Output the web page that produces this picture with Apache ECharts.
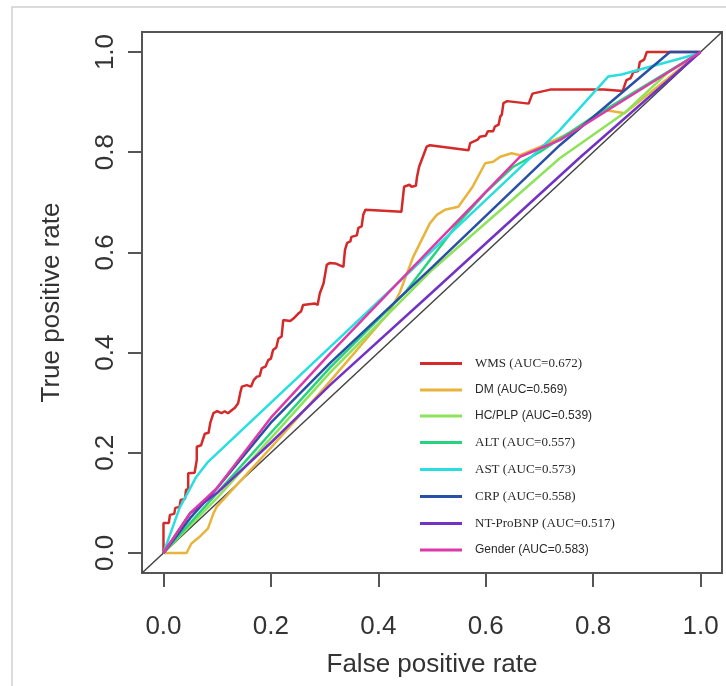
<!DOCTYPE html>
<html>
<head>
<meta charset="utf-8">
<script src="https://cdn.jsdelivr.net/npm/echarts@6/dist/echarts.min.js"></script>
<style>
html,body{margin:0;padding:0;background:#fff;}
#chart{width:726px;height:686px;}
</style>
</head>
<body>
<div id="chart"></div>
<script>
// ---- data (fpr, tpr) ----
const seriesNames = ['WMS', 'DM', 'HC/PLP', 'ALT', 'AST', 'CRP', 'NT-ProBNP', 'Gender'];
const aucValues = ['0.672', '0.569', '0.539', '0.557', '0.573', '0.558', '0.517', '0.583'];
const tickValues = [0, 0.2, 0.4, 0.6, 0.8, 1.0];

const rocWMS = [[0,0],[0,0.06],[0.01,0.06],[0.012,0.076],[0.02,0.078],[0.022,0.09],[0.03,0.092],[0.032,0.106],[0.04,0.108],[0.042,0.126],[0.046,0.128],[0.046,0.159],[0.058,0.16],[0.062,0.186],[0.062,0.212],[0.07,0.215],[0.072,0.222],[0.077,0.238],[0.084,0.24],[0.087,0.259],[0.093,0.279],[0.1,0.283],[0.108,0.279],[0.114,0.283],[0.12,0.279],[0.127,0.285],[0.133,0.29],[0.139,0.299],[0.143,0.32],[0.146,0.332],[0.155,0.335],[0.163,0.332],[0.168,0.345],[0.174,0.352],[0.179,0.353],[0.183,0.369],[0.19,0.372],[0.195,0.385],[0.2,0.388],[0.204,0.405],[0.21,0.41],[0.214,0.428],[0.22,0.432],[0.223,0.465],[0.236,0.463],[0.242,0.468],[0.251,0.478],[0.256,0.482],[0.26,0.495],[0.282,0.498],[0.287,0.495],[0.291,0.518],[0.298,0.538],[0.304,0.575],[0.31,0.579],[0.32,0.578],[0.335,0.571],[0.338,0.605],[0.342,0.619],[0.348,0.622],[0.35,0.631],[0.36,0.634],[0.363,0.649],[0.369,0.652],[0.372,0.675],[0.376,0.685],[0.443,0.681],[0.446,0.711],[0.448,0.731],[0.458,0.735],[0.462,0.731],[0.47,0.733],[0.472,0.75],[0.476,0.771],[0.49,0.811],[0.496,0.814],[0.568,0.804],[0.571,0.818],[0.574,0.821],[0.585,0.825],[0.589,0.831],[0.6,0.833],[0.604,0.842],[0.614,0.842],[0.617,0.851],[0.624,0.855],[0.627,0.871],[0.63,0.875],[0.633,0.898],[0.64,0.902],[0.68,0.897],[0.687,0.917],[0.72,0.925],[0.82,0.925],[0.855,0.922],[0.862,0.944],[0.87,0.948],[0.875,0.96],[0.884,0.962],[0.887,0.98],[0.895,0.985],[0.9,1.0],[1,1]];
const rocDM = [[0,0],[0.043,0],[0.052,0.019],[0.068,0.033],[0.083,0.049],[0.093,0.079],[0.099,0.092],[0.2,0.21],[0.3,0.33],[0.42,0.48],[0.44,0.52],[0.465,0.591],[0.496,0.658],[0.509,0.675],[0.524,0.685],[0.549,0.691],[0.575,0.73],[0.599,0.778],[0.614,0.781],[0.627,0.791],[0.648,0.798],[0.664,0.794],[0.7,0.81],[0.76,0.84],[0.819,0.885],[0.859,0.878],[1,1]];
const rocHCPLP = [[0,0],[0.1,0.11],[0.31,0.36],[0.5,0.565],[0.738,0.788],[0.86,0.88],[0.94,0.96],[1,1]];
const rocALT = [[0,0],[0.05,0.06],[0.1,0.12],[0.2,0.24],[0.31,0.37],[0.45,0.52],[0.55,0.66],[0.6,0.72],[0.65,0.77],[0.7,0.8],[0.8,0.87],[1,1]];
const rocAST = [[0,0],[0.03,0.09],[0.06,0.15],[0.083,0.182],[0.31,0.411],[0.738,0.844],[0.828,0.951],[0.853,0.955],[0.99,0.995],[1,1]];
const rocCRP = [[0,0],[0.05,0.07],[0.1,0.13],[0.2,0.26],[0.31,0.379],[0.5,0.57],[0.738,0.814],[0.943,1.0],[1,1]];
const rocNT = [[0,0],[0.05,0.08],[0.1,0.12],[0.2,0.22],[0.31,0.335],[0.5,0.52],[0.776,0.79],[1,1]];
const rocGender = [[0,0],[0.05,0.08],[0.1,0.13],[0.2,0.27],[0.31,0.398],[0.5,0.61],[0.664,0.791],[0.738,0.824],[1,1]];
const refDiagonal = [[-0.04,-0.04],[1.04,1.04]];

// ---- styles ----
const colors = ['#d42a2a', '#e8b43c', '#8ee35a', '#27d37f', '#29dede', '#2750a6', '#7232c4', '#dc3aa8'];
const legendFont = ['t', 's', 's', 't', 't', 't', 't', 's'];
const rocData = [rocWMS, rocDM, rocHCPLP, rocALT, rocAST, rocCRP, rocNT, rocGender];

const labelFont = "'Liberation Sans', Arial, sans-serif";

const chart = echarts.init(document.getElementById('chart'), null, {renderer: 'canvas'});

const series = [{
  name: 'ref',
  type: 'line',
  data: refDiagonal,
  showSymbol: false,
  silent: true,
  lineStyle: {color: '#444', width: 1.5},
  z: 1
}];
seriesNames.forEach((n, i) => {
  series.push({
    name: n,
    type: 'line',
    data: rocData[i],
    showSymbol: false,
    lineStyle: {color: colors[i], width: 2.5},
    itemStyle: {color: colors[i]},
    z: 2 + i
  });
});

const legendLabel = {};
seriesNames.forEach((n, i) => { legendLabel[n] = n + ' (AUC=' + aucValues[i] + ')'; });

chart.setOption({
  animation: false,
  backgroundColor: '#fff',
  graphic: [{
    type: 'rect',
    shape: {x: 12, y: 7, width: 730, height: 700},
    style: {fill: 'none', stroke: '#cfcfcf', lineWidth: 1.5},
    silent: true
  }],
  grid: {
    left: 142, top: 32, width: 580, height: 541,
    show: true, borderColor: '#555', borderWidth: 2, backgroundColor: 'transparent'
  },
  legend: {
    data: seriesNames,
    orient: 'vertical',
    left: 420,
    top: 357,
    padding: 0,
    itemWidth: 42,
    itemHeight: 3,
    itemGap: 14,
    icon: 'rect',
    formatter: function (name) {
      const i = seriesNames.indexOf(name);
      return '{' + legendFont[i] + '|' + legendLabel[name] + '}';
    },
    textStyle: {
      color: '#2a2a2a',
      rich: {
        t: {fontFamily: "'Liberation Serif', 'Times New Roman', serif", fontSize: 13, lineHeight: 16, padding: [0,0,0,8], color: '#2a2a2a'},
        s: {fontFamily: "'Liberation Sans', Arial, sans-serif", fontSize: 12, lineHeight: 16, padding: [0,0,0,8], color: '#2a2a2a'}
      }
    }
  },
  xAxis: {
    type: 'value',
    min: -0.04,
    max: 1.04,
    name: 'False positive rate',
    nameLocation: 'middle',
    nameGap: 79,
    nameTextStyle: {fontFamily: labelFont, fontSize: 26, color: '#333'},
    axisLine: {show: false, onZero: false},
    splitLine: {show: false},
    axisTick: {show: true, inside: false, length: 14, customValues: tickValues, lineStyle: {color: '#555', width: 2}},
    axisLabel: {
      customValues: tickValues,
      margin: 41,
      fontFamily: labelFont, fontSize: 26, color: '#333',
      formatter: v => v.toFixed(1)
    }
  },
  yAxis: {
    type: 'value',
    min: -0.04,
    max: 1.04,
    name: 'True positive rate',
    nameLocation: 'middle',
    nameGap: 77,
    nameRotate: 90,
    nameTextStyle: {fontFamily: labelFont, fontSize: 26, color: '#333'},
    axisLine: {show: false, onZero: false},
    splitLine: {show: false},
    axisTick: {show: true, inside: false, length: 14, customValues: tickValues, lineStyle: {color: '#555', width: 2}},
    axisLabel: {
      customValues: tickValues,
      rotate: 90,
      margin: 23,
      fontFamily: labelFont, fontSize: 26, color: '#333',
      formatter: v => v.toFixed(1)
    }
  },
  series: series
});
</script>
</body>
</html>
